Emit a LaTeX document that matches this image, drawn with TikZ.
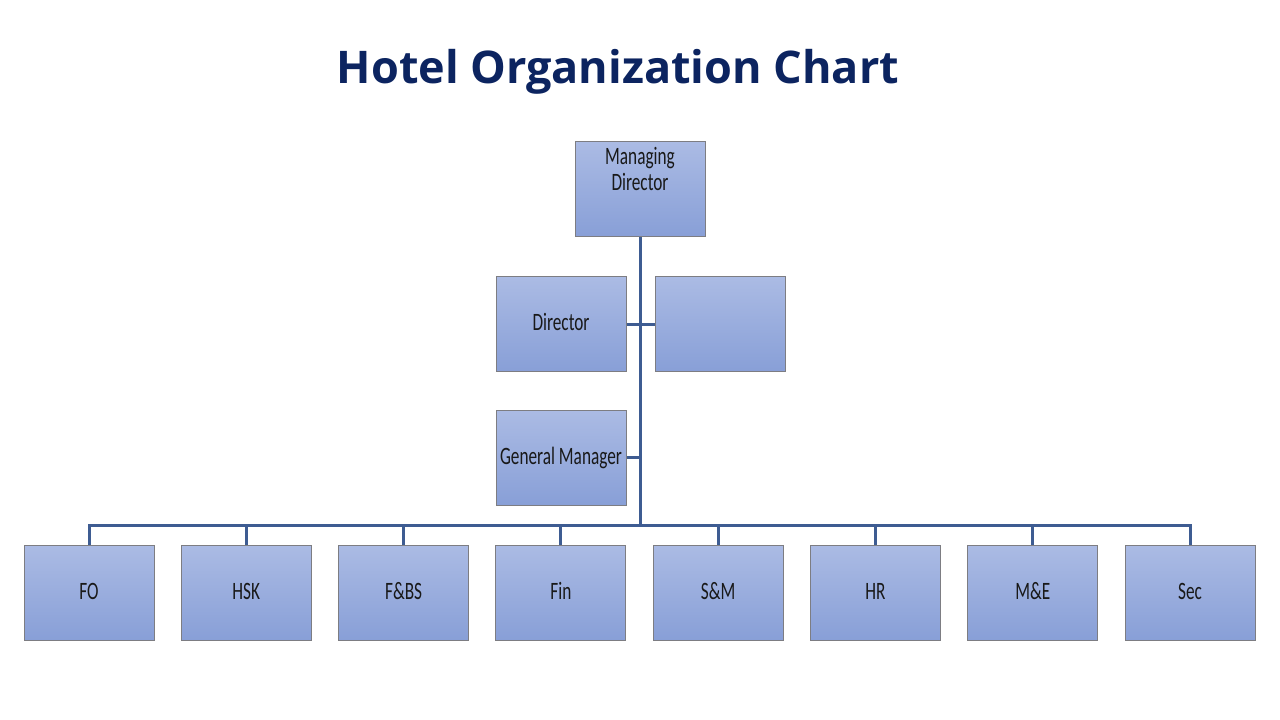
\documentclass[tikz,border=0pt]{standalone}
\usepackage{fontspec}
\usepackage{graphicx}
\newfontfamily\titlefont{Open Sans}
\newfontfamily\boxfont{Carlito}
\usetikzlibrary{positioning}
\definecolor{titleblue}{RGB}{12,36,96}
\definecolor{boxtop}{RGB}{171,187,228}
\definecolor{boxbot}{RGB}{136,159,215}
\definecolor{boxline}{RGB}{125,125,130}
\definecolor{linkblue}{RGB}{62,92,146}
\newcommand{\narrowtext}[1]{\scalebox{0.69}[1]{\begin{tabular}{@{}c@{}}#1\end{tabular}}}

\tikzset{
  orgbox/.style={
    draw=boxline,
    line width=1pt,
    top color=boxtop,
    bottom color=boxbot,
    minimum width=130pt,
    minimum height=95pt,
    inner sep=0pt,
    text height=16pt,
    text depth=0pt,
    font=\boxfont\fontsize{25}{26}\selectfont,
    text=black!90
  },
  link/.style={linkblue, line width=3pt}
}

\begin{document}
\begin{tikzpicture}[x=1pt, y=-1pt]
      \useasboundingbox (0,0) rectangle (1280,720);
      \node[
      anchor=base,
      font=\titlefont\bfseries\fontsize{45}{50}\selectfont,
      text=titleblue
      ] (title) at (618,83) {Hotel Organization Chart};
      % top of the chart
      \node[orgbox] (md) at (640,189) {};
      \node[
      below=5pt of md.north,
      inner sep=0pt,
      font=\boxfont\fontsize{25}{26}\selectfont,
      text=black!90
      ] (mdtext) {\narrowtext{Managing\\Director}};
      \node[orgbox] (dir) at (561,324) {\narrowtext{Director}};
      \node[orgbox, right=28pt of dir] (blank) {};
      \node[orgbox] (gm) at (561,457.5) {\narrowtext{General Manager}};
      % departments
      \foreach \dept [count=\i] in {FO, HSK, F\&BS, Fin, S\&M, HR, M\&E, Sec}
        \node[orgbox] (d\i) at ({89+(\i-1)*157.3},592.5) {\narrowtext{\dept}};
      \coordinate (bus) at (640,525);
      \draw[link] (md.south) -- (bus);
      \draw[link] (dir.east) -- (blank.west);
      \draw[link] (gm.east) -- (gm.east -| bus);
      \draw[link] (d1.north) |- (d8.north |- bus) -- (d8.north);
      \foreach \i in {2,...,7}
        \draw[link] (d\i.north) -- (d\i.north |- bus);
    \end{tikzpicture}
\end{document}
